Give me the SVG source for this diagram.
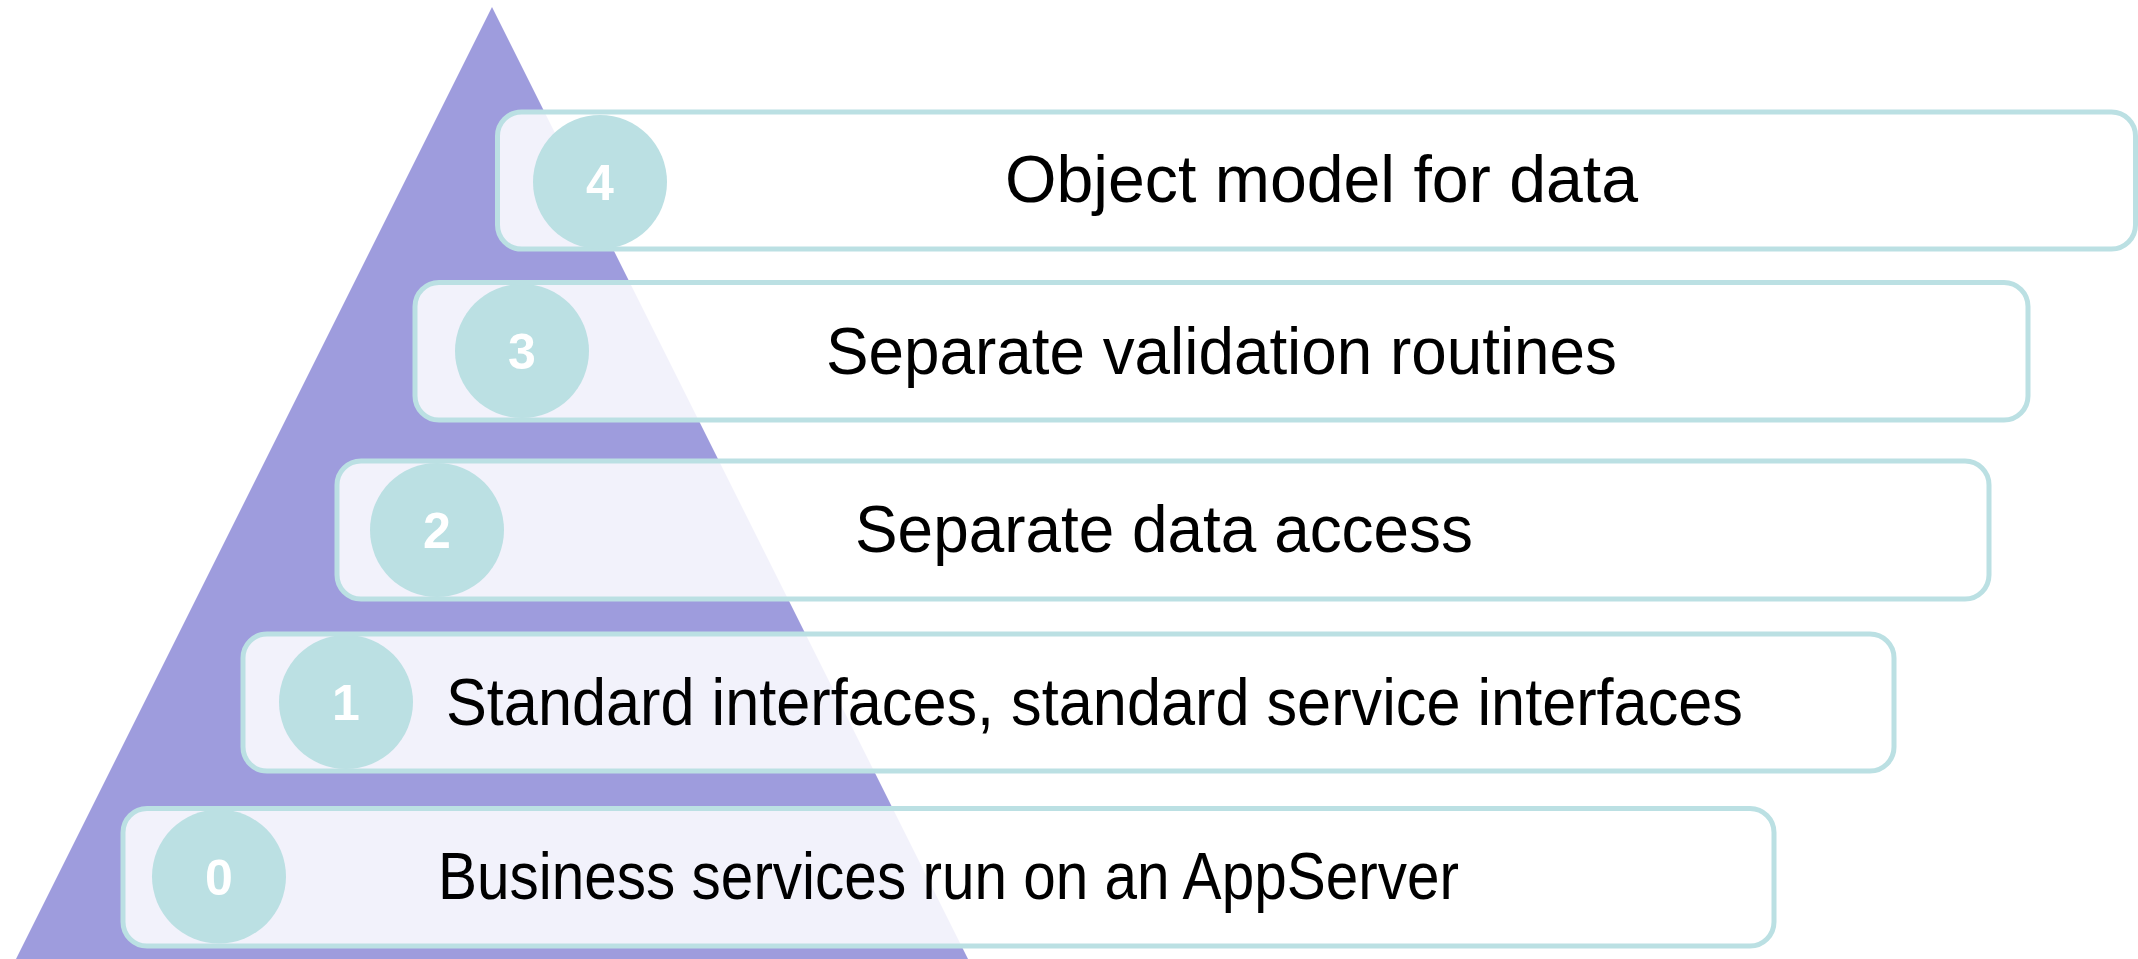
<svg xmlns="http://www.w3.org/2000/svg" width="2138" height="959" viewBox="0 0 2138 959">
<style>
.box{fill:#ffffff;fill-opacity:0.87;stroke:#BBE0E3;stroke-width:5}
.dot{fill:#BBE0E3}
.num{font-family:"Liberation Sans",Arial,sans-serif;font-weight:bold;font-size:50px;fill:#ffffff;text-anchor:middle}
.lbl{font-family:"Liberation Sans",Arial,sans-serif;font-size:67px;fill:#000000}
</style>
<rect width="2138" height="959" fill="#ffffff"/>
<polygon id="pyramid" points="492,7 16,959 968,959" fill="#9E9CDD"/>
<g id="connectors"></g>
<g id="step4">
<rect class="box" x="497.5" y="112" width="1638" height="137" rx="24"/>
<circle class="dot" cx="600" cy="182" r="67"/>
<text class="num" x="600" y="200">4</text>
<text class="lbl" x="1005" y="202" textLength="633" lengthAdjust="spacingAndGlyphs">Object model for data</text>
</g>
<g id="step3">
<rect class="box" x="415" y="282.5" width="1613" height="137.5" rx="24"/>
<circle class="dot" cx="522" cy="351" r="67"/>
<text class="num" x="522" y="369">3</text>
<text class="lbl" x="826" y="373.5" textLength="791" lengthAdjust="spacingAndGlyphs">Separate validation routines</text>
</g>
<g id="step2">
<rect class="box" x="337" y="461" width="1652" height="138" rx="24"/>
<circle class="dot" cx="437" cy="530" r="67"/>
<text class="num" x="437" y="548">2</text>
<text class="lbl" x="855" y="552" textLength="618" lengthAdjust="spacingAndGlyphs">Separate data access</text>
</g>
<g id="step1">
<rect class="box" x="243" y="634" width="1651" height="137" rx="24"/>
<circle class="dot" cx="346" cy="702" r="67"/>
<text class="num" x="346" y="720">1</text>
<text class="lbl" x="446" y="724.5" textLength="1297" lengthAdjust="spacingAndGlyphs">Standard interfaces, standard service interfaces</text>
</g>
<g id="step0">
<rect class="box" x="123" y="808.5" width="1651" height="137.5" rx="24"/>
<circle class="dot" cx="219" cy="876.5" r="67"/>
<text class="num" x="219" y="894.5">0</text>
<text class="lbl" x="438" y="899" textLength="1021" lengthAdjust="spacingAndGlyphs">Business services run on an AppServer</text>
</g>
</svg>
